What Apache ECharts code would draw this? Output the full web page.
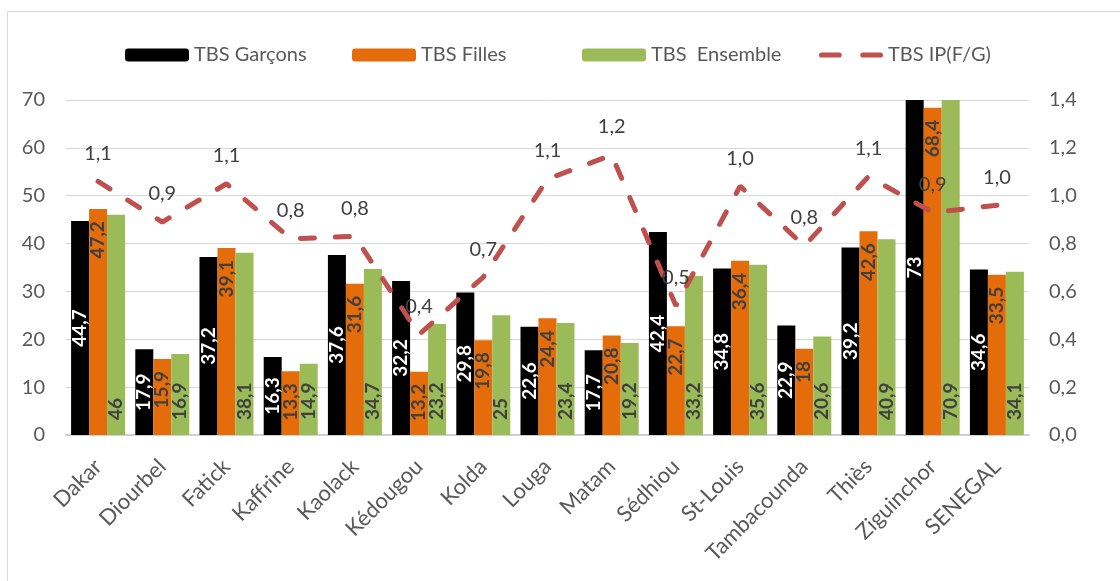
<!DOCTYPE html>
<html>
<head>
<meta charset="utf-8">
<script src="https://cdn.jsdelivr.net/npm/echarts@6/dist/echarts.min.js"></script>
<style>
  html, body { margin: 0; padding: 0; background: #fff; overflow: hidden; }
  #frame { position: absolute; left: 7px; top: 11px; width: 1300px; height: 800px; border: 1px solid #d9d9d9; }
  #chart { position: absolute; left: 0; top: 0; width: 1120px; height: 581px; }
</style>
</head>
<body>
<div id="frame"></div>
<div id="chart"></div>
<script>
const categories = ['Dakar', 'Diourbel', 'Fatick', 'Kaffrine', 'Kaolack', 'Kédougou', 'Kolda', 'Louga',
  'Matam', 'Sédhiou', 'St-Louis', 'Tambacounda', 'Thiès', 'Ziguinchor', 'SENEGAL']
const boys = [44.7, 17.9, 37.2, 16.3, 37.6, 32.2, 29.8, 22.6, 17.7, 42.4, 34.8, 22.9, 39.2, 73, 34.6]
const girls = [47.2, 15.9, 39.1, 13.3, 31.6, 13.2, 19.8, 24.4, 20.8, 22.7, 36.4, 18, 42.6, 68.4, 33.5]
const total = [46, 16.9, 38.1, 14.9, 34.7, 23.2, 25, 23.4, 19.2, 33.2, 35.6, 20.6, 40.9, 70.9, 34.1]
const parity = [1.06, 0.89, 1.05, 0.82, 0.83, 0.42, 0.66, 1.07, 1.17, 0.54, 1.04, 0.79, 1.08, 0.93, 0.96]

const FONT = 'Lato'
const TXT = '#595959'
const comma = v => String(v).replace('.', ',')

// two rounded dashes for the parity legend entry
const DASH_ICON = 'path://M2.5,0 H19.5 A2.5,2.5 0 0 1 19.5,5 H2.5 A2.5,2.5 0 0 1 2.5,0 Z ' +
  'M42.5,0 H59.5 A2.5,2.5 0 0 1 59.5,5 H42.5 A2.5,2.5 0 0 1 42.5,0 Z'

const chart = echarts.init(document.getElementById('chart'))

const legendItem = (item, left) => ({
  data: [item],
  left,
  top: 40,
  itemWidth: 64,
  itemHeight: 13,
  itemGap: 7,
  textStyle: { color: TXT, fontSize: 20, fontFamily: FONT }
})

const barLabel = (color, position, extra) => Object.assign({
  show: true,
  rotate: 90,
  position,
  verticalAlign: 'middle',
  color,
  fontSize: 19,
  fontWeight: 'bold',
  fontFamily: FONT,
  formatter: p => comma(p.value)
}, extra)

chart.setOption({
  animation: false,
  legend: [
    legendItem('TBS Garçons', 120),
    legendItem('TBS Filles', 347),
    legendItem('TBS  Ensemble', 577),
    legendItem({ name: 'TBS IP(F/G)', icon: DASH_ICON }, 814)
  ],
  grid: { left: 66, right: 91, top: 100, bottom: 146 },
  xAxis: {
    type: 'category',
    data: categories,
    axisTick: { show: false },
    axisLine: { lineStyle: { color: '#d0d0d0', width: 2 } },
    axisLabel: { rotate: 45, color: TXT, fontSize: 22, fontFamily: FONT, margin: 28, interval: 0 }
  },
  yAxis: [
    {
      type: 'value', min: 0, max: 70, interval: 10,
      axisLabel: { color: TXT, fontSize: 20, fontFamily: FONT, margin: 21 },
      splitLine: { lineStyle: { color: '#d9d9d9' } },
      axisLine: { show: false }, axisTick: { show: false }
    },
    {
      type: 'value', min: 0, max: 1.4, interval: 0.2,
      axisLabel: { color: TXT, fontSize: 20, fontFamily: FONT, margin: 20, formatter: v => v.toFixed(1).replace('.', ',') },
      splitLine: { show: false },
      axisLine: { show: false }, axisTick: { show: false }
    }
  ],
  series: [
    {
      name: 'TBS Garçons', type: 'bar', data: boys, barWidth: 18, barGap: '0%',
      itemStyle: { color: '#000000' },
      label: barLabel('#ffffff', 'inside', { align: 'center' })
    },
    {
      name: 'TBS Filles', type: 'bar', data: girls, barWidth: 18,
      itemStyle: { color: '#e46c0a' },
      label: barLabel('#404040', 'insideTop', { align: 'right', distance: 12 })
    },
    {
      name: 'TBS  Ensemble', type: 'bar', data: total, barWidth: 18,
      itemStyle: { color: '#9bbb59' },
      label: barLabel('#404040', 'insideBottom', { align: 'left', distance: 15 })
    },
    {
      name: 'TBS IP(F/G)', type: 'line', data: parity, yAxisIndex: 1,
      symbol: 'circle', symbolSize: 0, showSymbol: true,
      itemStyle: { color: '#c0504d' },
      lineStyle: { color: '#c0504d', width: 5, type: [14, 21], cap: 'round' },
      label: {
        show: true, position: 'top', distance: 18,
        color: '#404040', fontSize: 20, fontFamily: FONT,
        formatter: p => p.value.toFixed(1).replace('.', ',')
      },
      z: 5
    }
  ]
})
</script>
</body>
</html>
